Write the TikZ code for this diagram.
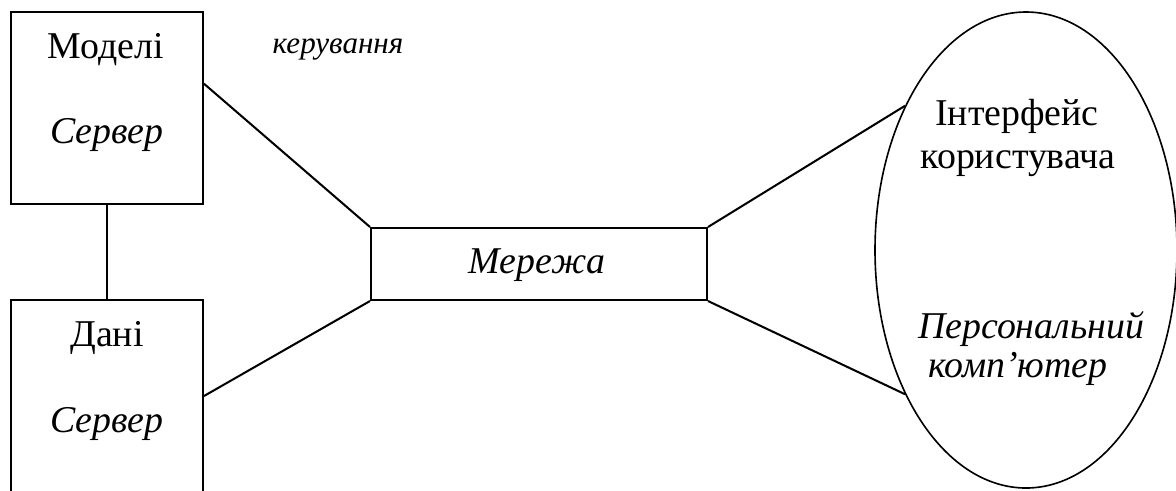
\documentclass[tikz,border=0pt]{standalone}
\usepackage{fontspec}
\setmainfont{Liberation Serif}
\usetikzlibrary{shapes.geometric,positioning,calc}

\begin{document}
\begin{tikzpicture}[
    x=0.013cm, y=-0.013cm,
    box/.style={rectangle, draw, line width=0.75pt, minimum width=2.496cm, minimum height=2.496cm, inner sep=0pt},
    netbox/.style={rectangle, draw, line width=0.75pt, minimum width=4.368cm, minimum height=0.936cm, inner sep=0pt},
    pcoval/.style={ellipse, draw, line width=0.6pt, minimum width=3.926cm, minimum height=6.188cm, inner sep=0pt},
    lbl/.style={anchor=base, inner sep=0pt, font=\fontsize{14pt}{16pt}\selectfont},
    ilbl/.style={lbl, font=\fontsize{14pt}{16pt}\selectfont\itshape},
    link/.style={line width=0.75pt}
]
    \useasboundingbox (0,0) rectangle (1176,490);

    \node [box] (models) at (107,108) {};
    \node [box] (data) at (107,396) {};
    \node [netbox] (net) at (539,264) {};
    \node [pcoval] (pc) at (1026,250) {};

    \node [lbl] (modelsname) at (106,58) {Моделі};
    \node [ilbl] (modelssrv) at (107,143) {Сервер};
    \node [lbl] (dataname) at (107,346) {Дані};
    \node [ilbl] (datasrv) at (107,432) {Сервер};
    \node [ilbl, font=\fontsize{11.5pt}{13pt}\selectfont\itshape] (ctrl) at (338,53) {керування};
    \node [ilbl] (netname) at (537,273) {Мережа};
    \node [lbl] (ui1) at (1017,125) {Інтерфейс};
    \node [lbl] (ui2) at (1018,168) {користувача};
    \node [ilbl] (pc1) at (1031,338) {Персональний};
    \node [ilbl] (pc2) at (1018,377) {комп’ютер};

    \draw [link] (models.south) -- (data.north);
    \draw [link] ($(models.north east)!0.375!(models.south east)$) -- (net.north west);
    \draw [link] (data.east) -- (net.south west);
    \draw [link] (net.north east) -- (pc.130);
    \draw [link] (net.south east) -- (pc.230);
\end{tikzpicture}
\end{document}
